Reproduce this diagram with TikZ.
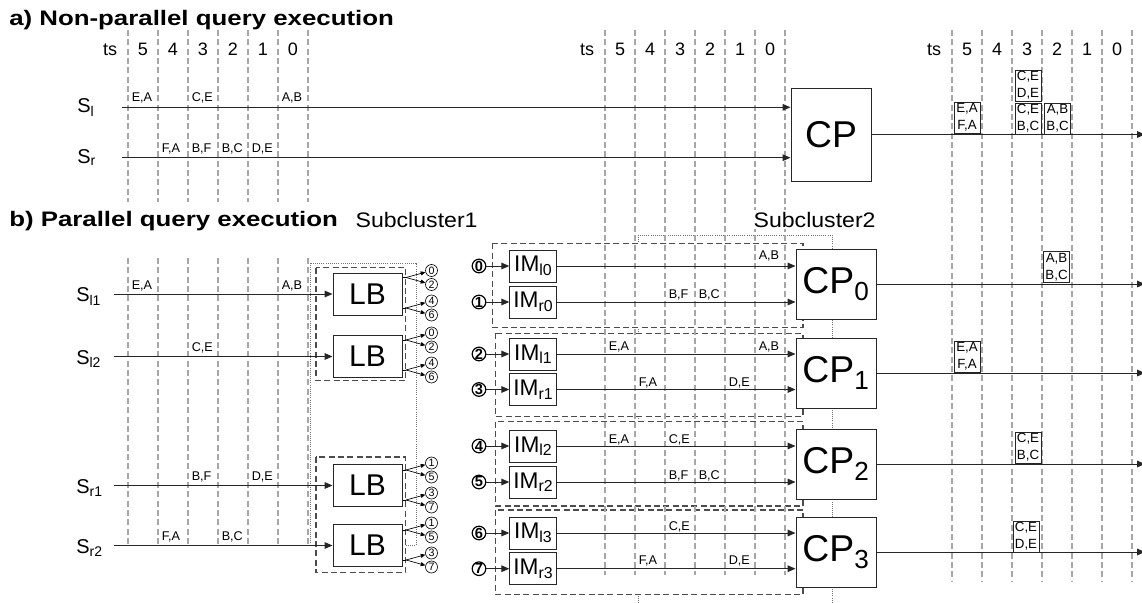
\documentclass[tikz,border=0pt]{standalone}
\usepackage{fontspec}
\setmainfont{Liberation Sans}
\usepackage{graphicx}
\usetikzlibrary{arrows.meta}
\begin{document}
\begin{tikzpicture}[x=0.75pt,y=-0.75pt,
  vl/.style={draw=black!35, line width=0.8pt, dash pattern=on 4.5pt off 2.5pt},
  arr/.style={draw=black!85, line width=0.75pt, -{Triangle[length=6pt,width=5pt]}},
  sarr/.style={draw=black, line width=0.5pt, -{Triangle[length=3.5pt,width=3pt]}},
  bx/.style={draw=black!85, line width=0.75pt, fill=white, inner sep=0pt},
  cpbox/.style={bx, minimum width=60pt, minimum height=52.5pt, font=\fontsize{28}{30}\selectfont},
  lbbox/.style={bx, minimum width=51.75pt, minimum height=31.5pt, font=\fontsize{22.5}{24}\selectfont},
  imbox/.style={bx, minimum width=35.25pt, minimum height=24pt, font=\fontsize{17}{19}\selectfont},
  obox/.style={draw=black!85, line width=0.6pt, fill=white, inner sep=0pt, minimum width=19.5pt, minimum height=23.25pt, align=center, font=\fontsize{10}{12.5}\selectfont},
  dbox/.style={draw=black!70, line width=0.8pt, dash pattern=on 4.5pt off 2.5pt, fill=white},
  dotbox/.style={draw=black!55, line width=0.6pt, dash pattern=on 0.7pt off 0.9pt},
  lab/.style={anchor=base west, inner sep=0pt, font=\fontsize{9.5}{11}\selectfont},
  hd/.style={anchor=base, inner sep=0pt, font=\fontsize{13.5}{15}\selectfont},
  sname/.style={anchor=base west, inner sep=0pt, font=\fontsize{15}{18}\selectfont},
  ttl/.style={anchor=base west, inner sep=0pt, font=\fontsize{15.75}{18}\selectfont\bfseries},
  sctxt/.style={anchor=base west, inner sep=1pt, fill=white, font=\fontsize{15.75}{18}\selectfont},
  imc/.style={circle, draw, line width=0.9pt, fill=white, inner sep=0pt, minimum size=10.2pt, font=\fontsize{11}{12}\selectfont\bfseries},
  lbc/.style={circle, draw, line width=0.5pt, fill=white, inner sep=0pt, minimum size=9pt, font=\fontsize{8}{9}\selectfont},
]
\useasboundingbox (0,0) rectangle (1142,603);

% subcluster frames (dotted)
\draw[dotbox] (310,263) rectangle (416,545);
\draw[dotbox] (638,235) rectangle (832,612);
% LB frames
\draw[dbox] (316,267.7) rectangle (405.7,380.7);
\draw[dbox] (316,457) rectangle (405.7,572.7);
% IM frames
\draw[dbox] (492.7,243.3) rectangle (803,327.7);
\draw[dbox] (495.7,333.3) rectangle (803,416.7);
\draw[dbox] (495.7,421.7) rectangle (803,506);
\draw[dbox] (495.7,510) rectangle (803,594.3);

% time grid
\foreach \k in {0,...,6} {
  \draw[vl] (128+30*\k,30) -- (128+30*\k,202);
  \draw[vl] (128+30*\k,258) -- (128+30*\k,547);
  \draw[vl] (605+30*\k,30) -- (605+30*\k,575);
  \draw[vl] (952+30*\k,30) -- (952+30*\k,582);
}

% headers
\foreach \B/\g in {128/l,605/m,952/r} {
  \node[hd] (ts\g) at (\B-18,55) {ts};
  \foreach \k in {0,...,5} {
    \pgfmathtruncatemacro{\d}{5-\k}
    \node[hd] (ts\g\k) at (\B+15+30*\k,55) {\d};
  }
}

% titles
\node[ttl] (ta) at (9,25) {\scalebox{1.23}[1]{a) Non-parallel query execution}};
\node[ttl] (tb) at (9,226.5) {\scalebox{1.23}[1]{b) Parallel query execution}};
\node[sctxt] (sc1) at (354,227) {\scalebox{1.1}[1]{Subcluster1}};
\node[sctxt] (sc2) at (752,227) {\scalebox{1.1}[1]{Subcluster2}};

% ---------- part a ----------
\node[sname] (Sl) at (77,112.5) {S\textsubscript{l}};
\node[sname] (Sr) at (77,163) {S\textsubscript{r}};
\coordinate (sla) at (122,107.3);
\coordinate (sra) at (122,157.7);
\node[bx, minimum width=60pt, minimum height=69.75pt, font=\fontsize{28}{30}\selectfont] (cp) at (831,134.5) {CP};
\draw[arr] (sla) -- (sla -| cp.west);
\draw[arr] (sra) -- (sra -| cp.west);
\coordinate (outa) at (1145,134.5);
\draw[arr] (cp.east) -- (outa);
\node[obox] (oa1) at (967,117.5) {E,A\\F,A};
\node[obox] (oa2) at (1028,85.5) {C,E\\D,E};
\node[obox] (oa3) at (1028,118.5) {C,E\\B,C};
\node[obox] (oa4) at (1057.5,118.5) {A,B\\B,C};

% stream labels (left group, parts a and b)
\foreach \y/\c/\t [count=\i] in {101.7/0/{E,A}, 101.7/2/{C,E}, 101.7/5/{A,B},
    152/1/{F,A}, 152/2/{B,F}, 152/3/{B,C}, 152/4/{D,E},
    289.3/0/{E,A}, 289.3/5/{A,B}, 351.5/2/{C,E},
    480.7/2/{B,F}, 480.7/4/{D,E}, 540.5/1/{F,A}, 540.5/3/{B,C}}
  \node[lab] (tl\i) at (128+30*\c+3.5,\y) {\t};

% ---------- part b: load balancers ----------
\node[sname] (Sl1) at (76,301.5) {S\textsubscript{l1}};
\node[sname] (Sl2) at (76,364) {S\textsubscript{l2}};
\node[sname] (Sr1) at (76,493.5) {S\textsubscript{r1}};
\node[sname] (Sr2) at (76,553.5) {S\textsubscript{r2}};
\node[lbbox] (lb1) at (367.5,294) {LB};
\node[lbbox] (lb2) at (367.5,356.5) {LB};
\node[lbbox] (lb3) at (367.5,485.5) {LB};
\node[lbbox] (lb4) at (367.5,545.5) {LB};
\foreach \n/\y in {1/294,2/356.5,3/485.5,4/545.5} {
  \coordinate (sin\n) at (114,\y);
  \draw[arr] (sin\n) -- (lb\n.west);
}
\foreach \L/\ya/\yb/\na/\nb/\nc/\nd in {1/277.5/308/0/2/4/6, 2/340/370/0/2/4/6, 3/470/500/1/5/3/7, 4/530/560/1/5/3/7} {
  \coordinate (lbA\L) at (406,\ya);
  \coordinate (lbB\L) at (406,\yb);
  \draw[line width=0.6pt] (lbA\L -| lb\L.east) -- (lbA\L);
  \draw[line width=0.6pt] (lbB\L -| lb\L.east) -- (lbB\L);
  \node[lbc] (c\L a) at (431.5,\ya-7) {\na};
  \node[lbc] (c\L b) at (431.5,\ya+7) {\nb};
  \node[lbc] (c\L c) at (431.5,\yb-7) {\nc};
  \node[lbc] (c\L d) at (431.5,\yb+7) {\nd};
  \draw[sarr] (lbA\L) -- (c\L a);
  \draw[sarr] (lbA\L) -- (c\L b);
  \draw[sarr] (lbB\L) -- (c\L c);
  \draw[sarr] (lbB\L) -- (c\L d);
}

% ---------- part b: input managers and CPs ----------
\foreach \n/\y in {0/284,1/373,2/464,3/552} {
  \node[cpbox] (cp\n) at (836,\y) {CP\textsubscript{\n}};
  \coordinate (out\n) at (1145,\y);
  \draw[arr] (cp\n.east) -- (out\n);
}
\foreach \n/\nm/\y/\c in {0/l0/266/0, 1/r0/302/0, 2/l1/354/1, 3/r1/389.5/1, 4/l2/446/2, 5/r2/482/2, 6/l3/533/3, 7/r3/568.7/3} {
  \node[imbox] (im\nm) at (533.3,\y) {IM\textsubscript{\nm}};
  \node[imc] (ic\n) at (479,\y) {\n};
  \draw[arr] (ic\n) -- (im\nm.west);
  \draw[arr] (im\nm.east) -- (im\nm.east -| cp\c.west);
}
\foreach \y/\c/\t [count=\i] in {259.3/5/{A,B},
    298.8/2/{B,F}, 298.8/3/{B,C},
    350.7/0/{E,A}, 350.7/5/{A,B},
    386.2/1/{F,A}, 386.2/4/{D,E},
    443/0/{E,A}, 443/2/{C,E},
    479/2/{B,F}, 479/3/{B,C},
    530.5/2/{C,E},
    564.5/1/{F,A}, 564.5/4/{D,E}}
  \node[lab] (tm\i) at (605+30*\c+3.5,\y) {\t};

% outputs part b
\node[obox] (ob0) at (1056.5,267) {A,B\\B,C};
\node[obox] (ob1) at (967,356.5) {E,A\\F,A};
\node[obox] (ob2) at (1028,447.5) {C,E\\B,C};
\node[obox] (ob3) at (1026,536.5) {C,E\\D,E};
\end{tikzpicture}
\end{document}
